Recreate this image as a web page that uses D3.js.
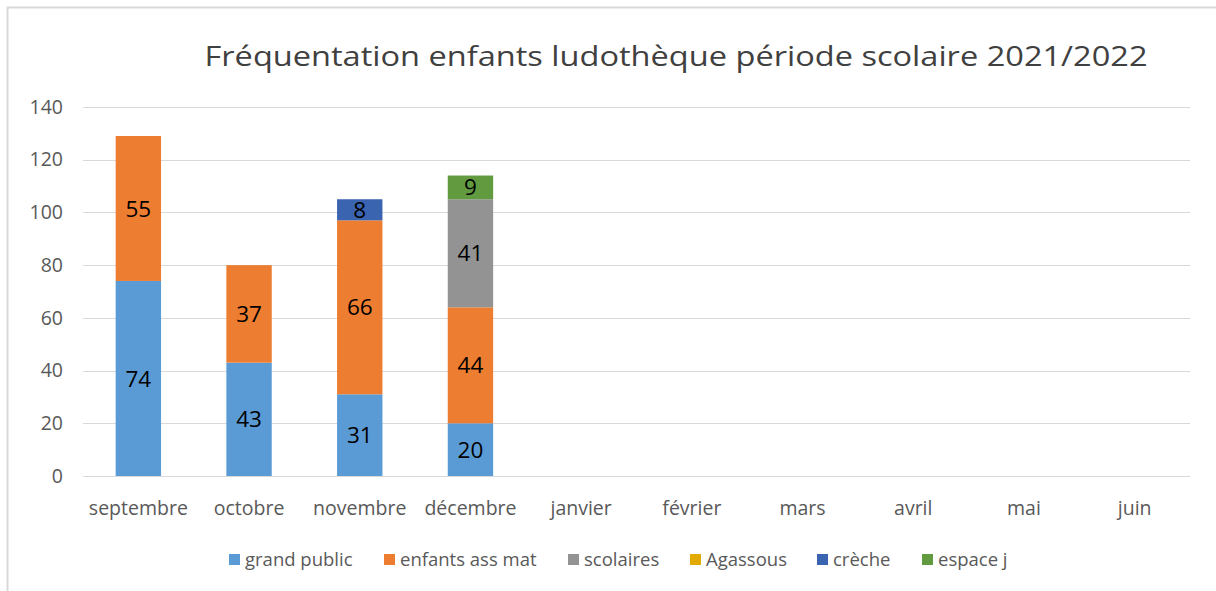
<!DOCTYPE html>
<html>
<head>
<meta charset="utf-8">
<script src="https://cdn.jsdelivr.net/npm/d3@7"></script>
<style>
  body { margin: 0; background: #fff; }
  svg { font-family: "Open Sans", sans-serif; }
</style>
</head>
<body>
<svg id="chart" width="1216" height="591"></svg>
<script>
// data
const months = ['septembre', 'octobre', 'novembre', 'décembre', 'janvier', 'février', 'mars', 'avril', 'mai', 'juin'];
const seriesNames = ['grand public', 'enfants ass mat', 'scolaires', 'Agassous', 'crèche', 'espace j'];
const seriesColors = ['#5b9bd5', '#ed7d31', '#939393', '#e2a900', '#3b64b0', '#629b3f'];
const grandPublic = [74, 43, 31, 20, 0, 0, 0, 0, 0, 0];
const enfantsAssMat = [55, 37, 66, 44, 0, 0, 0, 0, 0, 0];
const scolaires = [0, 0, 0, 41, 0, 0, 0, 0, 0, 0];
const agassous = [0, 0, 0, 0, 0, 0, 0, 0, 0, 0];
const creche = [0, 0, 8, 0, 0, 0, 0, 0, 0, 0];
const espaceJ = [0, 0, 0, 9, 0, 0, 0, 0, 0, 0];
const yTicks = [0, 20, 40, 60, 80, 100, 120, 140];

const svg = d3.select('#chart');
const width = 1216, height = 591;
const margin = { left: 83, right: 26, top: 107, bottom: 115 };

// frame (only top and left edges are visible)
svg.append('path')
	.attr('d', `M7.5,${height} V7.5 H${width}`)
	.attr('fill', 'none').attr('stroke', '#d9d9d9').attr('stroke-width', 2);

const rows = months.map((m, i) => ({
	month: m,
	'grand public': grandPublic[i],
	'enfants ass mat': enfantsAssMat[i],
	'scolaires': scolaires[i],
	'Agassous': agassous[i],
	'crèche': creche[i],
	'espace j': espaceJ[i]
}));

const stack = d3.stack().keys(seriesNames)(rows);

const x = d3.scaleBand()
	.domain(months)
	.range([margin.left, width - margin.right])
	.paddingInner(0.59)
	.paddingOuter(0.295);

const y = d3.scaleLinear()
	.domain([0, 140])
	.range([height - margin.bottom, margin.top]);

// gridlines
svg.append('g')
	.selectAll('line')
	.data(yTicks)
	.join('line')
	.attr('x1', margin.left).attr('x2', width - margin.right)
	.attr('y1', d => Math.round(y(d)) + 0.5).attr('y2', d => Math.round(y(d)) + 0.5)
	.attr('stroke', '#d9d9d9').attr('stroke-width', 1.2);

// y axis labels
const yAxis = svg.append('g')
	.attr('transform', `translate(${margin.left - 20},0)`)
	.call(d3.axisLeft(y).tickValues(yTicks).tickSize(0).tickPadding(0));
yAxis.select('.domain').remove();
yAxis.selectAll('text')
	.attr('font-family', '"Open Sans", sans-serif')
	.attr('font-size', 19.5).attr('fill', '#595959');

// x axis labels
const xAxis = svg.append('g')
	.attr('transform', `translate(0,${height - margin.bottom + 25})`)
	.call(d3.axisBottom(x).tickSize(0).tickPadding(0));
xAxis.select('.domain').remove();
xAxis.selectAll('text')
	.attr('font-family', '"Open Sans", sans-serif')
	.attr('font-size', 19.5).attr('fill', '#595959');

// bars
const layers = svg.append('g')
	.selectAll('g')
	.data(stack)
	.join('g')
	.attr('fill', (d, i) => seriesColors[i]);

layers.selectAll('rect')
	.data(d => d.filter(s => s[1] - s[0] > 0))
	.join('rect')
	.attr('x', d => x(d.data.month))
	.attr('width', x.bandwidth())
	.attr('y', d => y(d[1]))
	.attr('height', d => y(d[0]) - y(d[1]));

// data labels
layers.selectAll('text')
	.data(d => d.filter(s => s[1] - s[0] > 0).map(s => ({ s, v: s[1] - s[0] })))
	.join('text')
	.attr('x', d => x(d.s.data.month) + x.bandwidth() / 2)
	.attr('y', d => (y(d.s[0]) + y(d.s[1])) / 2)
	.attr('dy', '0.36em')
	.attr('text-anchor', 'middle')
	.attr('font-size', 22.5)
	.attr('fill', '#000')
	.text(d => d.v);

// title
svg.append('text')
	.attr('x', 676).attr('y', 66)
	.attr('text-anchor', 'middle')
	.attr('font-size', 28)
	.attr('fill', '#404040')
	.attr('textLength', 943)
	.attr('lengthAdjust', 'spacingAndGlyphs')
	.text('Fréquentation enfants ludothèque période scolaire 2021/2022');

// legend
const legendX = [229, 384, 568, 690, 817, 922];
const legend = svg.append('g')
	.selectAll('g')
	.data(seriesNames)
	.join('g')
	.attr('transform', (d, i) => `translate(${legendX[i]},560)`);
legend.append('rect')
	.attr('x', 0).attr('y', -6)
	.attr('width', 11).attr('height', 11)
	.attr('fill', (d, i) => seriesColors[i]);
legend.append('text')
	.attr('x', 16).attr('y', 0)
	.attr('dy', '0.33em')
	.attr('font-size', 18.5)
	.attr('fill', '#595959')
	.text(d => d);
</script>
</body>
</html>
